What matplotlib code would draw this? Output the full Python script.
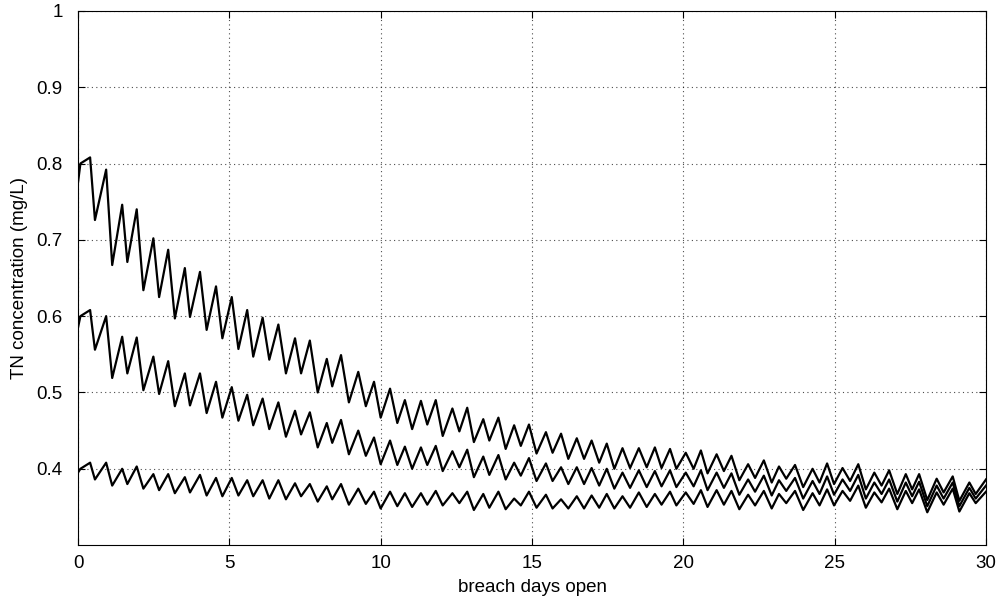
import matplotlib
matplotlib.use("Agg")
import matplotlib.pyplot as plt

## Times of the turning points (days) shared by the three runs
days = [
    0.00, 0.08, 0.40, 0.56, 0.93, 1.13, 1.46, 1.63, 1.94, 2.16,
    2.49, 2.68, 2.98, 3.20, 3.53, 3.70, 4.03, 4.25, 4.56, 4.77,
    5.08, 5.30, 5.59, 5.79, 6.10, 6.32, 6.62, 6.87, 7.17, 7.37,
    7.66, 7.92, 8.22, 8.40, 8.69, 8.95, 9.26, 9.51, 9.78, 10.00,
    10.31, 10.55, 10.80, 11.04, 11.33, 11.54, 11.82, 12.05, 12.37, 12.60,
    12.86, 13.08, 13.39, 13.59, 13.89, 14.13, 14.41, 14.63, 14.90, 15.15,
    15.46, 15.68, 15.96, 16.20, 16.48, 16.72, 16.97, 17.22, 17.47, 17.72,
    17.99, 18.24, 18.53, 18.79, 19.06, 19.28, 19.56, 19.77, 20.08, 20.34,
    20.58, 20.80, 21.10, 21.34, 21.59, 21.85, 22.14, 22.37, 22.66, 22.92,
    23.16, 23.40, 23.69, 23.96, 24.27, 24.50, 24.75, 24.98, 25.26, 25.51,
    25.78, 26.03, 26.31, 26.55, 26.80, 27.07, 27.35, 27.56, 27.79, 28.06,
    28.37, 28.60, 28.90, 29.12, 29.45, 29.66, 30.00,
]

## TN concentration (mg/L), high initial load
tn_high = [
    0.775, 0.800, 0.808, 0.726, 0.792, 0.667, 0.746, 0.671, 0.740, 0.634,
    0.702, 0.625, 0.687, 0.597, 0.663, 0.599, 0.658, 0.582, 0.639, 0.571,
    0.625, 0.557, 0.608, 0.547, 0.598, 0.543, 0.589, 0.525, 0.571, 0.525,
    0.568, 0.500, 0.544, 0.508, 0.549, 0.487, 0.527, 0.482, 0.514, 0.467,
    0.505, 0.460, 0.490, 0.452, 0.489, 0.458, 0.490, 0.443, 0.479, 0.449,
    0.480, 0.435, 0.465, 0.437, 0.467, 0.426, 0.457, 0.430, 0.458, 0.420,
    0.448, 0.421, 0.446, 0.413, 0.440, 0.413, 0.437, 0.408, 0.433, 0.400,
    0.427, 0.401, 0.427, 0.402, 0.428, 0.401, 0.426, 0.400, 0.421, 0.400,
    0.424, 0.394, 0.419, 0.397, 0.417, 0.385, 0.406, 0.388, 0.411, 0.382,
    0.403, 0.387, 0.405, 0.376, 0.400, 0.382, 0.407, 0.380, 0.401, 0.384,
    0.406, 0.373, 0.395, 0.378, 0.398, 0.367, 0.393, 0.373, 0.393, 0.359,
    0.387, 0.369, 0.390, 0.358, 0.382, 0.367, 0.386,
]

## TN concentration (mg/L), medium initial load
tn_mid = [
    0.585, 0.600, 0.608, 0.556, 0.600, 0.519, 0.573, 0.525, 0.572, 0.503,
    0.547, 0.498, 0.541, 0.482, 0.525, 0.483, 0.525, 0.473, 0.514, 0.467,
    0.507, 0.463, 0.497, 0.457, 0.492, 0.452, 0.487, 0.442, 0.476, 0.445,
    0.474, 0.428, 0.460, 0.434, 0.464, 0.419, 0.450, 0.417, 0.441, 0.406,
    0.437, 0.405, 0.429, 0.400, 0.428, 0.405, 0.430, 0.397, 0.423, 0.402,
    0.425, 0.389, 0.416, 0.392, 0.418, 0.386, 0.408, 0.391, 0.414, 0.384,
    0.407, 0.384, 0.402, 0.380, 0.402, 0.380, 0.401, 0.378, 0.400, 0.374,
    0.395, 0.375, 0.398, 0.376, 0.397, 0.377, 0.398, 0.376, 0.395, 0.377,
    0.398, 0.372, 0.395, 0.375, 0.394, 0.366, 0.386, 0.370, 0.391, 0.365,
    0.385, 0.371, 0.388, 0.361, 0.384, 0.367, 0.390, 0.366, 0.386, 0.371,
    0.392, 0.361, 0.382, 0.367, 0.386, 0.357, 0.382, 0.364, 0.383, 0.351,
    0.378, 0.361, 0.382, 0.351, 0.375, 0.361, 0.378,
]

## TN concentration (mg/L), low initial load
tn_low = [
    0.395, 0.400, 0.408, 0.386, 0.408, 0.378, 0.400, 0.380, 0.403, 0.374,
    0.393, 0.372, 0.393, 0.368, 0.389, 0.369, 0.392, 0.365, 0.388, 0.364,
    0.388, 0.365, 0.385, 0.364, 0.385, 0.361, 0.385, 0.360, 0.381, 0.364,
    0.380, 0.357, 0.377, 0.360, 0.380, 0.353, 0.374, 0.354, 0.370, 0.348,
    0.370, 0.351, 0.368, 0.350, 0.368, 0.353, 0.371, 0.352, 0.368, 0.355,
    0.370, 0.346, 0.367, 0.349, 0.370, 0.347, 0.361, 0.352, 0.370, 0.349,
    0.366, 0.348, 0.360, 0.348, 0.364, 0.348, 0.365, 0.349, 0.367, 0.348,
    0.364, 0.349, 0.369, 0.350, 0.367, 0.353, 0.370, 0.352, 0.369, 0.354,
    0.372, 0.350, 0.372, 0.353, 0.371, 0.347, 0.366, 0.352, 0.371, 0.348,
    0.367, 0.355, 0.371, 0.346, 0.368, 0.352, 0.373, 0.352, 0.371, 0.358,
    0.378, 0.349, 0.369, 0.356, 0.374, 0.347, 0.371, 0.355, 0.373, 0.343,
    0.369, 0.353, 0.374, 0.344, 0.368, 0.355, 0.370,
]

x_ticks = [0, 5, 10, 15, 20, 25, 30]
y_ticks = [0.4, 0.5, 0.6, 0.7, 0.8, 0.9, 1.0]
y_tick_labels = ["0.4", "0.5", "0.6", "0.7", "0.8", "0.9", "1"]

plt.rcParams["font.family"] = ["Liberation Sans", "DejaVu Sans"]
plt.rcParams["font.size"] = 13.5

fig = plt.figure(figsize=(10, 6.05), dpi=100)
ax = fig.add_axes([0.078, 0.099, 0.908, 0.883])

for series in (tn_high, tn_mid, tn_low):
    ax.plot(days, series, color="black", linewidth=1.6)

ax.set_xlim(0, 30)
ax.set_ylim(0.3, 1.0)
ax.set_xticks(x_ticks)
ax.set_yticks(y_ticks)
ax.set_yticklabels(y_tick_labels)
ax.tick_params(axis="y", direction="in", right=True, length=5, pad=11)
ax.tick_params(axis="x", direction="in", top=True, length=5, pad=7)
ax.grid(True, linestyle=(0, (1, 3)), color="black", linewidth=0.8, alpha=0.7)
for spine in ax.spines.values():
    spine.set_linewidth(0.8)

ax.set_xlabel("breach days open", labelpad=5)
ax.set_ylabel("TN concentration (mg/L)", labelpad=6)

fig.savefig("out.png", dpi=100, facecolor="white")
